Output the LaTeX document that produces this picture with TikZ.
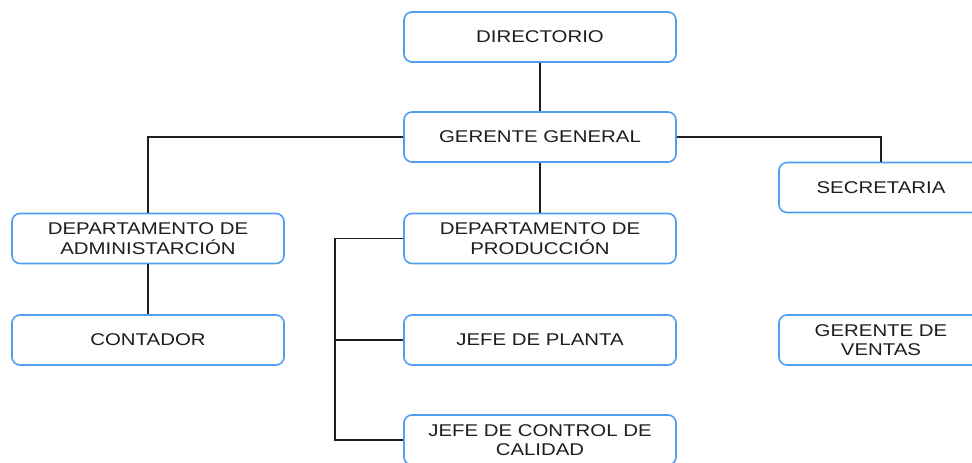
\documentclass[tikz,border=0pt]{standalone}
\usepackage{fontspec}
\setmainfont{Liberation Sans}[FakeStretch=1.2]
\usepackage{tikz}
\usetikzlibrary{positioning}
\definecolor{boxblue}{RGB}{80,158,240}
\definecolor{inkgray}{RGB}{30,30,30}

\begin{document}
\begin{tikzpicture}[x=0.75pt,y=-0.75pt,
    unit/.style = {draw=boxblue, line width=1.2pt, rounded corners=6pt,
      fill=white, minimum width=204pt, minimum height=37.5pt,
      align=center, inner sep=0pt, text=inkgray,
      font=\fontsize{12.75}{14.5}\selectfont},
    sideunit/.style = {unit, minimum width=153pt},
    link/.style = {draw=inkgray, line width=1.1pt}]
  \clip (0,0) rectangle (972,463);
  % top of the chart
  \node[unit] (dir) at (540,37) {DIRECTORIO};
  \node[unit] (gg) at (540,137) {GERENTE GENERAL};
  \node[sideunit] (sec) at (881,187.5) {SECRETARIA};
  % departments
  \node[unit] (adm) at (148,238.5) {DEPARTAMENTO DE\\ADMINISTARCIÓN};
  \node[unit] (prod) at (540,238.5) {DEPARTAMENTO DE\\PRODUCCIÓN};
  \node[unit] (cont) at (148,340) {CONTADOR};
  \node[unit] (planta) at (540,340) {JEFE DE PLANTA};
  \node[sideunit] (ventas) at (881,340) {GERENTE DE\\VENTAS};
  \node[unit] (calidad) at (540,440) {JEFE DE CONTROL DE\\CALIDAD};

  \draw[link] (dir) -- (gg);
  \draw[link] (gg) -- (prod);
  \draw[link] (gg.west) -| (adm.north);
  \draw[link] (gg.east) -| (sec.north);
  \draw[link] (adm) -- (cont);
  \draw[link] (prod.west) -- ++(-68,0) coordinate (bus) |- (calidad.west);
  \draw[link] (bus |- planta.west) -- (planta.west);
\end{tikzpicture}
\end{document}
